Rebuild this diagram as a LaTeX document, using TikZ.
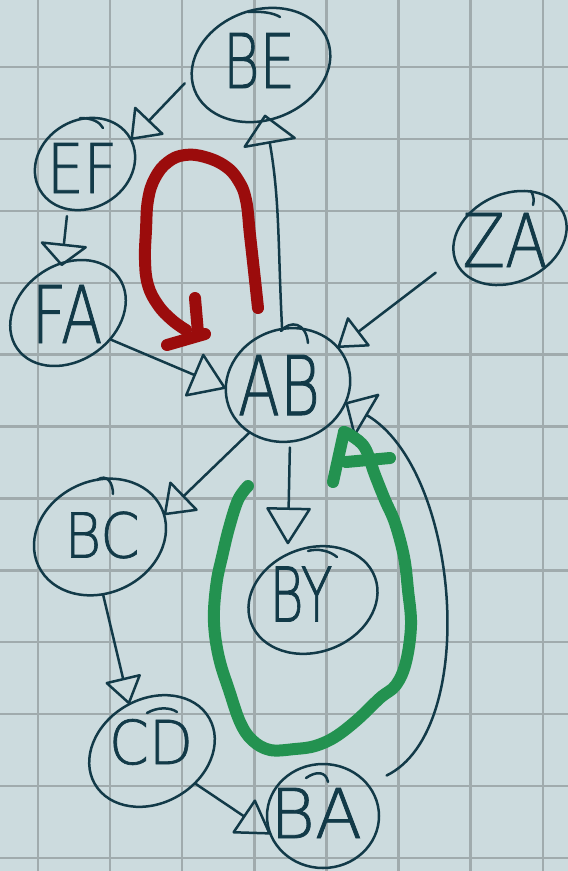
\documentclass[tikz,border=0pt]{standalone}
\usepackage{fontspec}
\usepackage{graphicx}
\usetikzlibrary{shapes.geometric,arrows.meta}
\newfontfamily\handfont{DejaVu Sans ExtraLight}[FakeBold=1.2]
\definecolor{paper}{HTML}{CCDBDE}
\definecolor{gridline}{HTML}{A0ABAD}
\definecolor{ink}{HTML}{123A48}
\definecolor{redpen}{HTML}{9B0C0C}
\definecolor{greenpen}{HTML}{239250}
% hand lettering: width, height, text
\newcommand\hw[3]{\resizebox{#1pt}{#2pt}{\fontsize{70}{70}\handfont #3}}

\begin{document}
\begin{tikzpicture}[x=1pt,y=-1pt,
  vertex/.style={ellipse, draw=ink, line width=2.5pt, inner sep=0pt, outer sep=0pt},
  caption/.style={inner sep=0pt, outer sep=0pt, text=ink},
  link/.style={draw=ink, line width=2.5pt, line cap=round, line join=round},
  stroke end/.style={draw=ink, line width=2.5pt, line cap=round},
  arrowhead/.style 2 args={-{Triangle[open,round,length=#1pt,width=#2pt]}},
  pen/.style={line width=12pt, line cap=round, line join=round},
]
\useasboundingbox (0,0) rectangle (568,871);
\fill[paper] (0,0) rectangle (568,871);

% squared paper
\foreach \k in {0,...,7}
  \draw[gridline, line width=2.4pt] ({38+72.1*\k},0) -- ({38+72.1*\k},871);
\foreach \k in {0,...,11}
  \draw[gridline, line width=2.4pt] (0,{67+71.9*\k}) -- (568,{67+71.9*\k});

% states
\node[vertex, minimum width=142pt, minimum height=110pt, rotate=20] (BE) at (261,65) {};
\node[vertex, minimum width=104pt, minimum height=88pt,  rotate=30] (EF) at (85,164) {};
\node[vertex, minimum width=124pt, minimum height=96pt,  rotate=35] (FA) at (68,313) {};
\node[vertex, minimum width=118pt, minimum height=88pt,  rotate=25] (ZA) at (510,238) {};
\node[vertex, minimum width=126pt, minimum height=112pt, rotate=20] (AB) at (288,385) {};
\node[vertex, minimum width=136pt, minimum height=112pt, rotate=25] (BC) at (100,537) {};
\node[vertex, minimum width=132pt, minimum height=104pt, rotate=20] (BY) at (313,600) {};
\node[vertex, minimum width=132pt, minimum height=104pt, rotate=30] (CD) at (152,751) {};
\node[vertex, minimum width=112pt, minimum height=104pt] (BA) at (323,816) {};

% overlapping pen ends where each outline was closed
\draw[stroke end] (248,12) .. controls (262,11) and (274,13) .. (280,17);
\draw[stroke end] (80,118) .. controls (92,118) and (100,122) .. (103,128);
\draw[stroke end] (531,191) .. controls (534,196) and (534,201) .. (533,205);
\draw[stroke end] (281,331) .. controls (290,320) and (306,322) .. (308,343);
\draw[stroke end] (97,480) .. controls (107,473) and (113,483) .. (113,494);
\draw[stroke end] (308,551) .. controls (318,548) and (330,551) .. (337,557);
\draw[stroke end] (147,713) .. controls (157,707) and (170,707) .. (177,712);
\draw[stroke end] (306,778) .. controls (316,771) and (326,771) .. (328,782);

% state names
\node[caption] (BE-t) at (259,60.5) {\hw{72}{55}{BE}};
\node[caption] (EF-t) at (82,168)   {\hw{70}{50}{EF}};
\node[caption] (FA-t) at (67,314)   {\hw{71}{58}{FA}};
\node[caption] (ZA-t) at (505,240)  {\hw{85}{54}{ZA}};
\node[caption] (AB-t) at (279,385)  {\hw{82}{60}{AB}};
\node[caption] (BC-t) at (102,535)  {\hw{75}{46}{BC}};
\node[caption] (BY-t) at (301,594)  {\hw{63}{55}{BY}};
\node[caption] (CD-t) at (151,742)  {\hw{84}{45}{CD}};
\node[caption] (BA-t) at (316,813)  {\hw{92}{50}{BA}};

% transitions
\draw[link, arrowhead={28}{42}, shorten <=10pt] (BE.169) -- (EF.-2);
\draw[link, arrowhead={23}{50}, shorten <=7pt, shorten >=-3pt] (EF.219) -- (FA.62);
\draw[link, arrowhead={30}{56}, shorten >=-6pt] (AB.76) to[out=93,in=-80] (BE.255);
\draw[link, arrowhead={36}{48}] (FA.293) -- (AB.163);
\draw[link, arrowhead={28}{38}, shorten <=24pt] (ZA.175) -- (AB.17);
\draw[link, arrowhead={29}{42}] (AB.211) -- (BC.-6);
\draw[link, arrowhead={38}{46}, shorten <=6pt, shorten >=10pt] (AB.252) -- (BY.99);
\draw[link, arrowhead={28}{38}] (BC.248) -- (CD.86);
\draw[link, arrowhead={34}{42}] (CD.-67) -- (BA.199);
\draw[link, arrowhead={26}{52}, shorten <=21pt]
  (BA.35) .. controls (480,730) and (460,470) .. (AB.-37);

% red marker loop
\draw[redpen, pen] plot[smooth, tension=.7] coordinates {
  (258,308) (255,280) (250,235) (246,200) (238,180) (225,166) (205,157)
  (185,155) (168,162) (155,178) (148,200) (146,230) (145,260) (148,285)
  (158,305) (172,320) (186,330)};
\draw[redpen, pen] (195,298) -- (198,333);
\draw[redpen, pen] (167,345) -- (205,334);

% green marker loop
\draw[greenpen, pen] plot[smooth, tension=.6] coordinates {
  (248,486) (238,500) (229,528) (222,557) (217,580) (214,610) (215,635)
  (220,662) (229,690) (240,722) (252,740) (270,750) (295,749) (315,746)
  (335,737) (357,720) (380,698) (396,685) (406,662) (411,625) (408,590)
  (404,557) (395,523) (385,500) (375,475) (365,448) (352,436) (344,432)};
\draw[greenpen, pen] (344,432) -- (333,482);
\draw[greenpen, pen] (346,462) -- (390,458);
\end{tikzpicture}
\end{document}
